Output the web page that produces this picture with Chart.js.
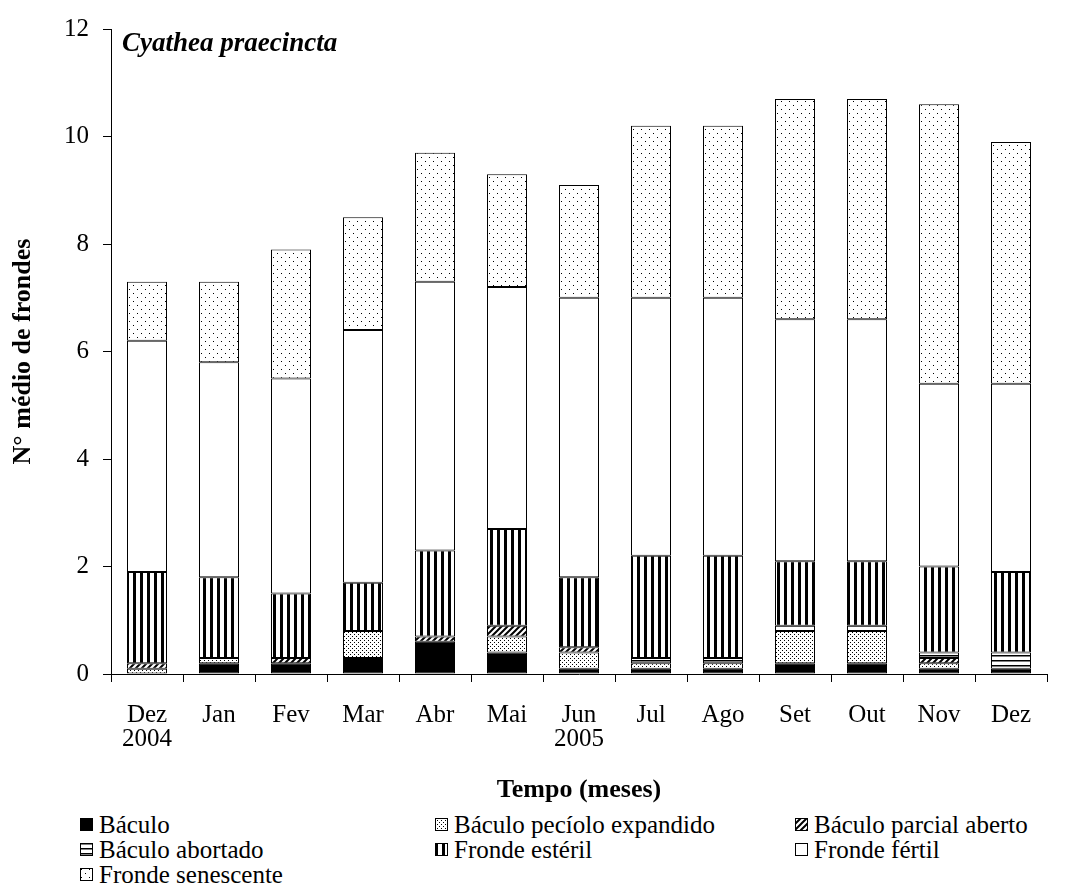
<!DOCTYPE html>
<html>
<head>
<meta charset="utf-8">
<script src="https://cdn.jsdelivr.net/npm/chart.js@4"></script>
<style>
  body { margin: 0; background: #fff; }
  #wrap { position: relative; width: 1069px; height: 891px; }
  #legend { position: absolute; left: 0; top: 0; width: 1069px; color: #000; }
  .item { position: absolute; display: flex; align-items: center; white-space: nowrap; height: 25px;
          font-family: "Liberation Serif", "Times New Roman", serif; font-size: 25px; }
  .item canvas { margin-right: 6px; }
</style>
</head>
<body>
<div id="wrap">
  <canvas id="myChart" width="1069" height="810"></canvas>
  <div id="legend"></div>
</div>
<script>
"use strict";

// Dados
const months = [["Dez", "2004"], "Jan", "Fev", "Mar", "Abr", "Mai", ["Jun", "2005"], "Jul", "Ago", "Set", "Out", "Nov", "Dez"];
const baculo          = [0,   0.2, 0.2, 0.3, 0.6, 0.4, 0.1, 0.1, 0.1, 0.2, 0.2, 0.1, 0.1];
const peciolo         = [0.1, 0.1, 0,   0.5, 0,   0.3, 0.3, 0.1, 0.1, 0.6, 0.6, 0.1, 0];
const parcialAberto   = [0.1, 0,   0.1, 0,   0.1, 0.2, 0.1, 0,   0,   0,   0,   0.1, 0];
const abortado        = [0,   0,   0,   0,   0,   0,   0,   0.1, 0.1, 0.1, 0.1, 0.1, 0.3];
const esteril         = [1.7, 1.5, 1.2, 0.9, 1.6, 1.8, 1.3, 1.9, 1.9, 1.2, 1.2, 1.6, 1.5];
const fertil          = [4.3, 4.0, 4.0, 4.7, 5.0, 4.5, 5.2, 4.8, 4.8, 4.5, 4.5, 3.4, 3.5];
const senescente      = [1.1, 1.5, 2.4, 2.1, 2.4, 2.1, 2.1, 3.2, 3.2, 4.1, 4.1, 5.2, 4.5];
const yTicks = [0, 2, 4, 6, 8, 10, 12];

const fontFam = '"Liberation Serif", "Times New Roman", serif';

// Mönster (hachuras) för staplarna
function makePattern(kind) {
  const c = document.createElement("canvas");
  const g = c.getContext("2d");
  if (kind === "solid") {
    c.width = 4; c.height = 4;
    g.fillStyle = "#000"; g.fillRect(0, 0, 4, 4);
  } else if (kind === "dense") {
    c.width = 4; c.height = 4;
    g.fillStyle = "#fff"; g.fillRect(0, 0, 4, 4);
    g.fillStyle = "#000";
    g.fillRect(0, 0, 1, 1); g.fillRect(2, 2, 1, 1);
  } else if (kind === "diag") {
    c.width = 6; c.height = 6;
    g.fillStyle = "#fff"; g.fillRect(0, 0, 6, 6);
    g.strokeStyle = "#000"; g.lineWidth = 2;
    g.beginPath();
    g.moveTo(-1, 7); g.lineTo(7, -1);
    g.moveTo(-4, 4); g.lineTo(4, -4);
    g.moveTo(2, 10); g.lineTo(10, 2);
    g.stroke();
  } else if (kind === "horiz") {
    c.width = 4; c.height = 5;
    g.fillStyle = "#fff"; g.fillRect(0, 0, 4, 5);
    g.fillStyle = "#000"; g.fillRect(0, 0, 4, 1.5);
  } else if (kind === "vert") {
    c.width = 7; c.height = 4;
    g.fillStyle = "#fff"; g.fillRect(0, 0, 7, 4);
    g.fillStyle = "#000"; g.fillRect(0, 0, 3, 4);
  } else if (kind === "white") {
    c.width = 4; c.height = 4;
    g.fillStyle = "#fff"; g.fillRect(0, 0, 4, 4);
  } else if (kind === "sparse") {
    c.width = 8; c.height = 8;
    g.fillStyle = "#fff"; g.fillRect(0, 0, 8, 8);
    g.fillStyle = "#000";
    g.fillRect(1, 1, 1, 1); g.fillRect(5, 5, 1, 1);
  }
  return g.createPattern(c, "repeat");
}

const series = [
  { label: "Báculo", data: baculo, kind: "solid" },
  { label: "Báculo pecíolo expandido", data: peciolo, kind: "dense" },
  { label: "Báculo parcial aberto", data: parcialAberto, kind: "diag" },
  { label: "Báculo abortado", data: abortado, kind: "horiz" },
  { label: "Fronde estéril", data: esteril, kind: "vert" },
  { label: "Fronde fértil", data: fertil, kind: "white" },
  { label: "Fronde senescente", data: senescente, kind: "sparse" },
];

const ctx = document.getElementById("myChart");

new Chart(ctx, {
  type: "bar",
  data: {
    labels: months,
    datasets: series.map(function (s) {
      return {
        label: s.label,
        data: s.data,
        backgroundColor: makePattern(s.kind),
        borderColor: "#000",
        borderWidth: 1,
        borderSkipped: false,
        barPercentage: 40 / 72,
        categoryPercentage: 1,
      };
    }),
  },
  options: {
    responsive: false,
    animation: false,
    layout: { padding: { top: 19, right: 22, left: 0, bottom: 0 } },
    plugins: {
      legend: { display: false },
      tooltip: { enabled: false },
    },
    scales: {
      x: {
        stacked: true,
        grid: { offset: true, drawOnChartArea: false, tickLength: 8, color: "#000" },
        border: { color: "#000", width: 1 },
        ticks: { color: "#000", font: { family: fontFam, size: 25, lineHeight: 0.95 }, padding: 22, maxRotation: 0 },
        title: { display: true, text: "Tempo (meses)", color: "#000", font: { family: fontFam, size: 26, weight: "bold" }, padding: { top: 0, bottom: 4 } },
        afterFit: function (scale) { scale.height = 810 - 674; },
      },
      y: {
        stacked: true,
        min: 0,
        max: 12,
        afterBuildTicks: function (scale) { scale.ticks = yTicks.map(function (v) { return { value: v }; }); },
        grid: { drawOnChartArea: false, tickLength: 8, color: "#000" },
        border: { color: "#000", width: 1 },
        ticks: { color: "#000", font: { family: fontFam, size: 25 }, padding: 14 },
        title: { display: true, text: "N° médio de frondes", color: "#000", font: { family: fontFam, size: 26, weight: "bold" }, padding: { top: 8, bottom: 0 } },
        afterFit: function (scale) { scale.width = 111; },
      },
    },
  },
  plugins: [{
    id: "especie",
    afterDraw: function (chart) {
      const g = chart.ctx;
      g.save();
      g.fillStyle = "#000";
      g.font = "italic bold 27px " + fontFam;
      g.textBaseline = "middle";
      g.fillText("Cyathea praecincta", 122, 44);
      g.restore();
    },
  }],
});

// Legenda em HTML, três colunas
const legendPos = [[80, 825], [435, 825], [795, 825], [80, 850], [435, 850], [795, 850], [80, 875]];
const legend = document.getElementById("legend");
series.forEach(function (s, i) {
  const item = document.createElement("div");
  item.className = "item";
  item.style.left = legendPos[i][0] + "px";
  item.style.top = (legendPos[i][1] - 13) + "px";
  const sw = document.createElement("canvas");
  sw.width = 13; sw.height = 13;
  const g = sw.getContext("2d");
  g.fillStyle = makePattern(s.kind);
  g.fillRect(0, 0, 13, 13);
  g.strokeStyle = "#000"; g.lineWidth = 1;
  g.strokeRect(0.5, 0.5, 12, 12);
  item.appendChild(sw);
  item.appendChild(document.createTextNode(s.label));
  legend.appendChild(item);
});
</script>
</body>
</html>
